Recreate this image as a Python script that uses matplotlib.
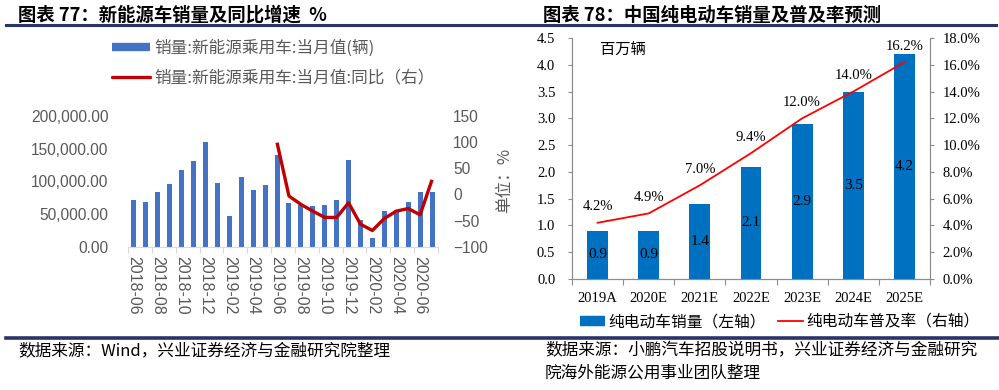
import matplotlib
matplotlib.use("Agg")
import matplotlib.pyplot as plt
from matplotlib.lines import Line2D
from matplotlib.ticker import FuncFormatter
import numpy as np

plt.rcParams['font.family'] = ['Noto Sans CJK SC', 'DejaVu Sans']

# ---- 图表77 数据 ----
months = ['2018-06', '2018-07', '2018-08', '2018-09', '2018-10', '2018-11', '2018-12',
          '2019-01', '2019-02', '2019-03', '2019-04', '2019-05', '2019-06', '2019-07',
          '2019-08', '2019-09', '2019-10', '2019-11', '2019-12', '2020-01', '2020-02',
          '2020-03', '2020-04', '2020-05', '2020-06', '2020-07']
sales = [72000, 69000, 83000, 96000, 118000, 131000, 160000,
         97000, 47000, 107000, 87000, 95000, 140000, 67000,
         64000, 63000, 64000, 72000, 132000, 41000, 14000,
         55000, 56000, 68000, 84000, 84000]
yoy_start = '2019-06'
yoy = [99, -3, -19, -32, -44, -44, -16, -57, -69, -46, -32, -27, -39, 28]

# ---- 图表78 数据 ----
years = ['2019A', '2020E', '2021E', '2022E', '2023E', '2024E', '2025E']
bev_sales = [0.9, 0.9, 1.4, 2.1, 2.9, 3.5, 4.2]
bev_rate = [4.2, 4.9, 7.0, 9.4, 12.0, 14.0, 16.2]

W, H = 999, 390
fig = plt.figure(figsize=(W / 100, H / 100), dpi=100)
fig.patch.set_facecolor('white')

def fx(px):
    return px / W

def fy(py):
    return 1 - py / H

grey = '#595959'
navy = '#2B3467'
latin_sans = ['Liberation Sans', 'Noto Sans CJK SC']
latin_serif = ['Liberation Serif', 'Noto Sans CJK SC']

# 标题和分隔线
fig.text(fx(18), fy(15), '图表 77：新能源车销量及同比增速  %', fontsize=13.2,
         fontweight='bold', va='center', ha='left', color='black')
fig.text(fx(543), fy(15), '图表 78：中国纯电动车销量及普及率预测', fontsize=13.2,
         fontweight='bold', va='center', ha='left', color='black')
fig.add_artist(Line2D([fx(6), fx(996)], [fy(24.5), fy(24.5)], color=navy, lw=2.2))
fig.add_artist(Line2D([fx(6), fx(999)], [fy(337.5), fy(337.5)], color=navy, lw=2.6))

fig.text(fx(18), fy(351), '数据来源：Wind，兴业证券经济与金融研究院整理', fontsize=12,
         va='center', ha='left', color='black')
fig.text(fx(545), fy(351), '数据来源：小鹏汽车招股说明书，兴业证券经济与金融研究',
         fontsize=12, va='center', ha='left', color='black')
fig.text(fx(545), fy(373), '院海外能源公用事业团队整理', fontsize=12,
         va='center', ha='left', color='black')

# ---------------- 左图 ----------------
ax1 = fig.add_axes([fx(128), fy(246.7), fx(438 - 128), (246.7 - 116) / H])
x1 = np.arange(len(months))
ax1.bar(x1, sales, width=0.42, color='#4472C4', zorder=2)
ax1.set_xlim(-0.5, len(months) - 0.5)
ax1.set_ylim(0, 200000)
ax1.set_yticks(np.arange(0, 200001, 50000))
ax1.yaxis.set_major_formatter(FuncFormatter(lambda v, p: f'{v:,.2f}'))
ax1.set_xticks(x1[::2])
ax1.set_xticklabels(months[::2], rotation=-90, ha='center', va='top')
ax1.set_xticks(np.arange(-0.5, len(months), 2), minor=True)
ax1.tick_params(axis='x', which='major', length=0, pad=7, labelsize=11.5, labelcolor=grey)
ax1.tick_params(axis='x', which='minor', length=4, width=0.8, color='#D9D9D9', direction='out')
ax1.tick_params(axis='y', length=0, pad=14, labelsize=11.2, labelcolor=grey)
for lab in ax1.get_xticklabels() + ax1.get_yticklabels():
    lab.set_family(latin_sans)
for s in ['left', 'right', 'top']:
    ax1.spines[s].set_visible(False)
ax1.spines['bottom'].set_color('#D9D9D9')

ax1r = ax1.twinx()
i0 = months.index(yoy_start)
ax1r.plot(x1[i0:i0 + len(yoy)], yoy, color='#C00000', lw=2.4, solid_joinstyle='round',
          solid_capstyle='butt', zorder=3)
ax1r.set_ylim(-100, 150)
ax1r.set_yticks(np.arange(-100, 151, 50))
ax1r.tick_params(axis='y', length=0, pad=11, labelsize=11.2, labelcolor=grey)
for lab in ax1r.get_yticklabels():
    lab.set_family(latin_sans)
for s in ['left', 'right', 'top', 'bottom']:
    ax1r.spines[s].set_visible(False)

h1 = Line2D([], [], color='#4472C4', lw=6, solid_capstyle='butt')
h2 = Line2D([], [], color='#C00000', lw=2.4, solid_capstyle='round')
leg1 = ax1.legend([h1, h2], ['销量:新能源乘用车:当月值(辆)', '销量:新能源乘用车:当月值:同比（右）'],
                  loc='upper left', bbox_to_anchor=(fx(112), fy(40)), bbox_transform=fig.transFigure,
                  frameon=False, fontsize=12, handlelength=2.3, handletextpad=0.25,
                  labelspacing=0.75, borderpad=0, borderaxespad=0)
for t in leg1.get_texts():
    t.set_color(grey)

fig.text(fx(505), fy(180), '单位：%', rotation=90, fontsize=12, color=grey,
         ha='center', va='center')

# ---------------- 右图 ----------------
ax2 = fig.add_axes([fx(572), fy(279), fx(930 - 572), (279 - 38) / H])
x2 = np.arange(len(years))
ax2.bar(x2, bev_sales, width=0.41, color='#0070C0', zorder=2)
for xi, v in zip(x2, bev_sales):
    ax2.text(xi, v / 2, f'{v:.1f}', ha='center', va='center', fontsize=11,
             family=latin_serif, color='black', zorder=4)
ax2.set_xlim(-0.5, len(years) - 0.5)
ax2.set_ylim(0, 4.5)
ax2.set_yticks(np.arange(0, 4.51, 0.5))
ax2.yaxis.set_major_formatter(FuncFormatter(lambda v, p: f'{v:.1f}'))
ax2.set_xticks(x2)
ax2.set_xticklabels(years)
ax2.set_xticks(np.arange(-0.5, len(years), 1), minor=True)
ax2.tick_params(axis='x', which='major', length=0, pad=9, labelsize=10.5)
ax2.tick_params(axis='x', which='minor', length=4, width=0.8, color='#8C8C8C', direction='out')
ax2.tick_params(axis='y', length=3, width=0.8, color='#8C8C8C', pad=9, labelsize=10.5)
for lab in ax2.get_xticklabels() + ax2.get_yticklabels():
    lab.set_family(latin_serif)
ax2.spines['top'].set_visible(False)
for s in ['left', 'bottom', 'right']:
    ax2.spines[s].set_color('#8C8C8C')
    ax2.spines[s].set_linewidth(0.8)

ax2r = ax2.twinx()
ax2r.plot(x2, bev_rate, color='#FF0000', lw=1.3, zorder=3)
for xi, v in zip(x2, bev_rate):
    ax2r.annotate(f'{v:.1f}%', (xi, v), xytext=(0, 16), textcoords='offset pixels',
                  ha='center', va='center', fontsize=10.5, family=latin_serif, color='black')
ax2r.set_ylim(0, 18)
ax2r.set_yticks(np.arange(0, 18.1, 2))
ax2r.yaxis.set_major_formatter(FuncFormatter(lambda v, p: f'{v:.1f}%'))
ax2r.tick_params(axis='y', length=3, width=0.8, color='#8C8C8C', pad=6, labelsize=10.5)
for lab in ax2r.get_yticklabels():
    lab.set_family(latin_serif)
ax2r.spines['top'].set_visible(False)
for s in ['left', 'bottom', 'right']:
    ax2r.spines[s].set_color('#8C8C8C')
    ax2r.spines[s].set_linewidth(0.8)

ax2.text(fx(600), fy(50), '百万辆', transform=fig.transFigure, fontsize=11,
         ha='left', va='center', color='black')

h3 = Line2D([], [], color='#0070C0', lw=7.5, solid_capstyle='butt')
h4 = Line2D([], [], color='#FF0000', lw=1.3)
ax2.legend([h3, h4], ['纯电动车销量（左轴）', '纯电动车普及率（右轴）'], ncol=2,
           loc='center left', bbox_to_anchor=(fx(580), fy(322)), bbox_transform=fig.transFigure,
           frameon=False, fontsize=11.3, handlelength=1.6, handletextpad=0.2,
           columnspacing=0.8, borderpad=0, borderaxespad=0)

fig.savefig('out.png', dpi=100, facecolor='white')
